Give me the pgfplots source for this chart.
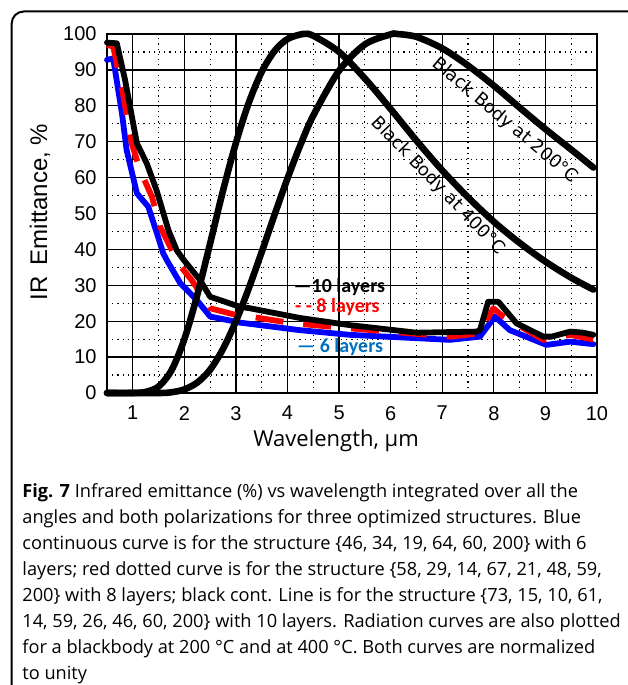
\documentclass[border=0pt]{standalone}
\usepackage{fontspec}
\setmainfont{Liberation Sans}
\newfontfamily\capfont{Open Sans}
\newfontfamily\bbfont{DejaVu Sans}
\newfontfamily\legfont{Carlito}
\usepackage{pgfplots}
\pgfplotsset{compat=1.18}
\definecolor{legblue}{RGB}{0,112,192}

\begin{document}
\begin{tikzpicture}
\useasboundingbox (0,0) rectangle (313.5pt,342.5pt);
% caption frame, cut off at the right and bottom
\draw[line width=1pt, rounded corners=6pt] (5.85pt,-2pt) -- (5.85pt,336.75pt) -- (316pt,336.75pt);

\begin{axis}[
  at={(53.5pt,146pt)}, anchor=south west,
  scale only axis, width=245pt, height=179.5pt,
  xmin=0.5, xmax=10, ymin=0, ymax=100,
  xtick={1,...,10}, ytick={0,10,...,100},
  minor xtick={1.5,2.5,...,9.5}, minor ytick={5,15,...,95},
  grid=both,
  major grid style={black, line width=0.65pt},
  minor grid style={black, line width=0.6pt, dotted},
  major tick length=0pt, minor tick length=0pt,
  axis line style={line width=1.2pt},
  tick label style={font=\fontsize{10}{12}\selectfont},
  /pgf/number format/assume math mode=true,
  yticklabel style={inner sep=0pt, xshift=-5pt},
  xticklabel style={inner sep=0pt, yshift=-6.4pt},
  clip=false,
]
% 6 layers
\addplot[blue, line width=2.9pt, line join=round, line cap=round] coordinates {
(0.5,92.8) (0.62,93.2) (0.79,77.9) (0.88,67.7) (1.08,55.6) (1.30,51.9) (1.49,43.5)
(1.59,38.9) (1.66,37.0) (1.92,30.6) (2.24,25.9) (2.50,21.3) (3.08,19.6) (4.24,17.5)
(5.21,16.2) (7.15,14.8) (7.73,15.7) (8.02,21.3) (8.31,17.5) (9.02,13.4) (9.48,14.3) (9.93,13.6)};
% 8 layers
\addplot[red, line width=2.9pt, line join=round, dash pattern=on 14pt off 10pt] coordinates {
(0.5,97.0) (0.62,96.5) (0.79,84.9) (0.98,69.5) (1.14,62.1) (1.37,54.7) (1.53,46.3)
(1.79,38.9) (1.85,36.6) (2.14,31.5) (2.50,23.6) (3.01,21.7) (3.27,21.3) (4.11,19.4)
(5.21,18.0) (7.15,15.7) (7.73,16.6) (7.99,23.6) (8.18,21.3) (8.96,14.8) (9.48,16.2) (9.93,14.9)};
% 10 layers
\addplot[black, line width=2.9pt, line join=round, line cap=round] coordinates {
(0.5,97.6) (0.69,97.4) (0.85,87.2) (1.08,69.5) (1.27,64.0) (1.46,56.5) (1.69,45.4)
(1.85,39.8) (1.98,37.2) (2.30,31.5) (2.50,26.8) (3.08,24.0) (3.27,23.6) (4.24,20.9)
(5.21,18.9) (6.50,16.8) (7.67,17.1) (7.73,17.5) (7.89,25.4) (8.09,25.4) (8.44,19.4)
(8.96,15.7) (9.12,15.7) (9.48,17.1) (9.73,16.8) (9.93,16.2)};
% black body 400 C
\addplot[black, line width=3.3pt, smooth, line cap=round] coordinates {
(0.5,0) (1.0,0) (1.25,0.3) (1.5,1.8) (1.75,6.3) (2.0,15.0) (2.25,27.3) (2.5,41.7)
(2.75,56.4) (3.0,69.7) (3.25,80.9) (3.5,89.5) (3.75,95.3) (4.0,98.6) (4.3,100)
(4.5,99.5) (5.0,95.0) (5.5,87.6) (6.0,79.1) (6.5,70.3) (7.0,62.0) (7.5,54.5)
(8.0,47.7) (8.5,41.8) (9.0,36.6) (9.5,32.1) (9.93,28.8)};
% black body 200 C
\addplot[black, line width=3.3pt, smooth, line cap=round] coordinates {
(0.5,0) (1.5,0) (1.75,0.2) (2.0,1.0) (2.25,2.9) (2.5,6.5) (2.75,12.3) (3.0,20.0)
(3.25,29.2) (3.5,39.3) (3.75,49.7) (4.0,59.8) (4.25,69.1) (4.5,77.3) (5.0,89.8)
(5.5,97.1) (6.0,99.9) (6.13,100) (6.5,99.2) (7.0,96.0) (7.5,91.2) (8.0,85.6)
(8.5,79.5) (9.0,73.5) (9.5,67.8) (9.93,62.8)};

\node[rotate=-40, font=\bbfont\fontsize{8.9}{10}\selectfont] at (axis cs:8.22,75.8) {Black Body at 200°C};
\node[rotate=-46, font=\bbfont\fontsize{8.9}{10}\selectfont] at (axis cs:6.92,57.7) {Black Body at 400°C};
\node[anchor=west, inner sep=0pt, font=\legfont\bfseries\fontsize{10}{11}\selectfont] at (axis cs:4.11,29.5) {—10 layers};
\node[anchor=west, inner sep=0pt, text=red, font=\legfont\bfseries\fontsize{10}{11}\selectfont] at (axis cs:4.14,24.0) {- - 8 layers};
\node[anchor=west, inner sep=0pt, text=legblue, font=\legfont\bfseries\fontsize{10}{11}\selectfont] at (axis cs:4.18,12.8) {— 6 layers};
\end{axis}

\node[rotate=90, font=\fontsize{12}{14}\selectfont] at (20pt,236.5pt) {IR\hspace{0.45em}Emittance, \%};
\node[font=\capfont\fontsize{11}{13}\selectfont] at (168pt,122pt) {Wavelength, μm};

\node[anchor=north west, inner sep=0pt, align=left, font=\capfont\fontsize{9.1}{13}\selectfont] at (11pt,100.7pt) {%
\textbf{Fig. 7} Infrared emittance (\%) vs wavelength integrated over all the\\
angles and both polarizations for three optimized structures. Blue\\
continuous curve is for the structure \{46, 34, 19, 64, 60, 200\} with 6\\
layers; red dotted curve is for the structure \{58, 29, 14, 67, 21, 48, 59,\\
200\} with 8 layers; black cont. Line is for the structure \{73, 15, 10, 61,\\
14, 59, 26, 46, 60, 200\} with 10 layers. Radiation curves are also plotted\\
for a blackbody at 200 °C and at 400 °C. Both curves are normalized\\
to unity};
\end{tikzpicture}
\end{document}
